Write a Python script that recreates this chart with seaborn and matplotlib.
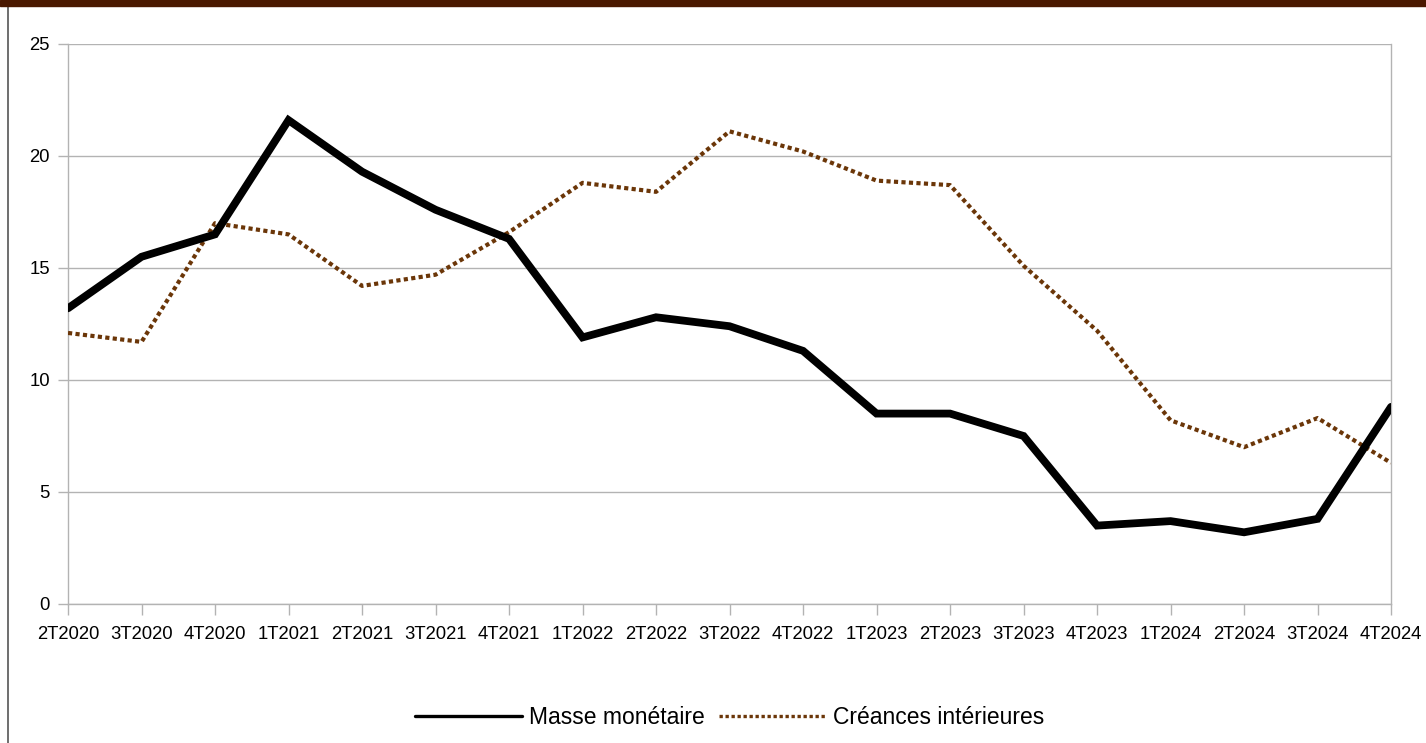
import numpy as np
import pandas as pd
import matplotlib
matplotlib.use('Agg')
import matplotlib.pyplot as plt
import seaborn as sns
from matplotlib.lines import Line2D
from matplotlib.patches import Rectangle

# quarters on the x axis
quarters = ['2T2020', '3T2020', '4T2020', '1T2021', '2T2021', '3T2021', '4T2021',
            '1T2022', '2T2022', '3T2022', '4T2022', '1T2023', '2T2023', '3T2023',
            '4T2023', '1T2024', '2T2024', '3T2024', '4T2024']

# values (%)
masse_monetaire = [13.2, 15.5, 16.5, 21.6, 19.3, 17.6, 16.3, 11.9, 12.8, 12.4,
                   11.3, 8.5, 8.5, 7.5, 3.5, 3.7, 3.2, 3.8, 8.8]
creances_int = [12.1, 11.7, 17.0, 16.5, 14.2, 14.7, 16.6, 18.8, 18.4, 21.1,
                20.2, 18.9, 18.7, 15.1, 12.2, 8.2, 7.0, 8.3, 6.3]

y_ticks = [0, 5, 10, 15, 20, 25]

sns.set_theme(style='white')
plt.rcParams['font.family'] = ['Liberation Sans', 'DejaVu Sans']
plt.rcParams['text.color'] = 'black'

df = pd.DataFrame({'pos': np.arange(len(quarters)),
                   'masse': masse_monetaire,
                   'creances': creances_int})

fig = plt.figure(figsize=(14.26, 7.43), dpi=100)
ax = fig.add_axes([0.0477, 0.1871, 0.9278, 0.7537])

grid_col = '#b3b3b3'
brown = '#6b3608'

sns.lineplot(data=df, x='pos', y='masse', ax=ax, color='black', linewidth=5.6,
             label='Masse monétaire', solid_joinstyle='miter', zorder=4)
sns.lineplot(data=df, x='pos', y='creances', ax=ax, color=brown, linewidth=3.0,
             linestyle=(0, (1, 0.8)), label='Créances intérieures', zorder=3)

ax.set_xlim(0, len(quarters) - 1)
ax.set_ylim(0, 25)
ax.set_xticks(df['pos'])
ax.set_xticklabels(quarters)
ax.set_yticks(y_ticks)
ax.set_xlabel('')
ax.set_ylabel('')

ax.yaxis.grid(True, color=grid_col, linewidth=1)
ax.set_axisbelow(True)
for side in ['left', 'bottom', 'right']:
    ax.spines[side].set_color(grid_col)
    ax.spines[side].set_linewidth(1)
ax.spines['top'].set_visible(False)

ax.tick_params(axis='x', direction='out', length=8, width=1, color=grid_col,
               labelsize=13.3, pad=8, bottom=True, labelcolor='black')
ax.tick_params(axis='y', direction='out', length=7, width=1, color=grid_col,
               labelsize=13.3, pad=6, left=True, labelcolor='black')

leg = ax.legend(loc='upper center', bbox_to_anchor=(0.5, -0.145), ncol=2,
                frameon=False, fontsize=16.5, handlelength=4.7, columnspacing=0.6,
                handletextpad=0.3)
for ln in leg.get_lines():
    ln.set_linewidth(2.4)
for t in leg.get_texts():
    t.set_color('black')

# dark banner at top and frame line on the left
fig.add_artist(Rectangle((0, 1 - 6 / 743), 1, 6 / 743, transform=fig.transFigure,
                         color='#4a1800', zorder=10))
fig.add_artist(Line2D([8 / 1426, 8 / 1426], [0, 1 - 6 / 743], transform=fig.transFigure,
                      color='#555555', linewidth=1.2))

fig.savefig('out.png', dpi=100)
